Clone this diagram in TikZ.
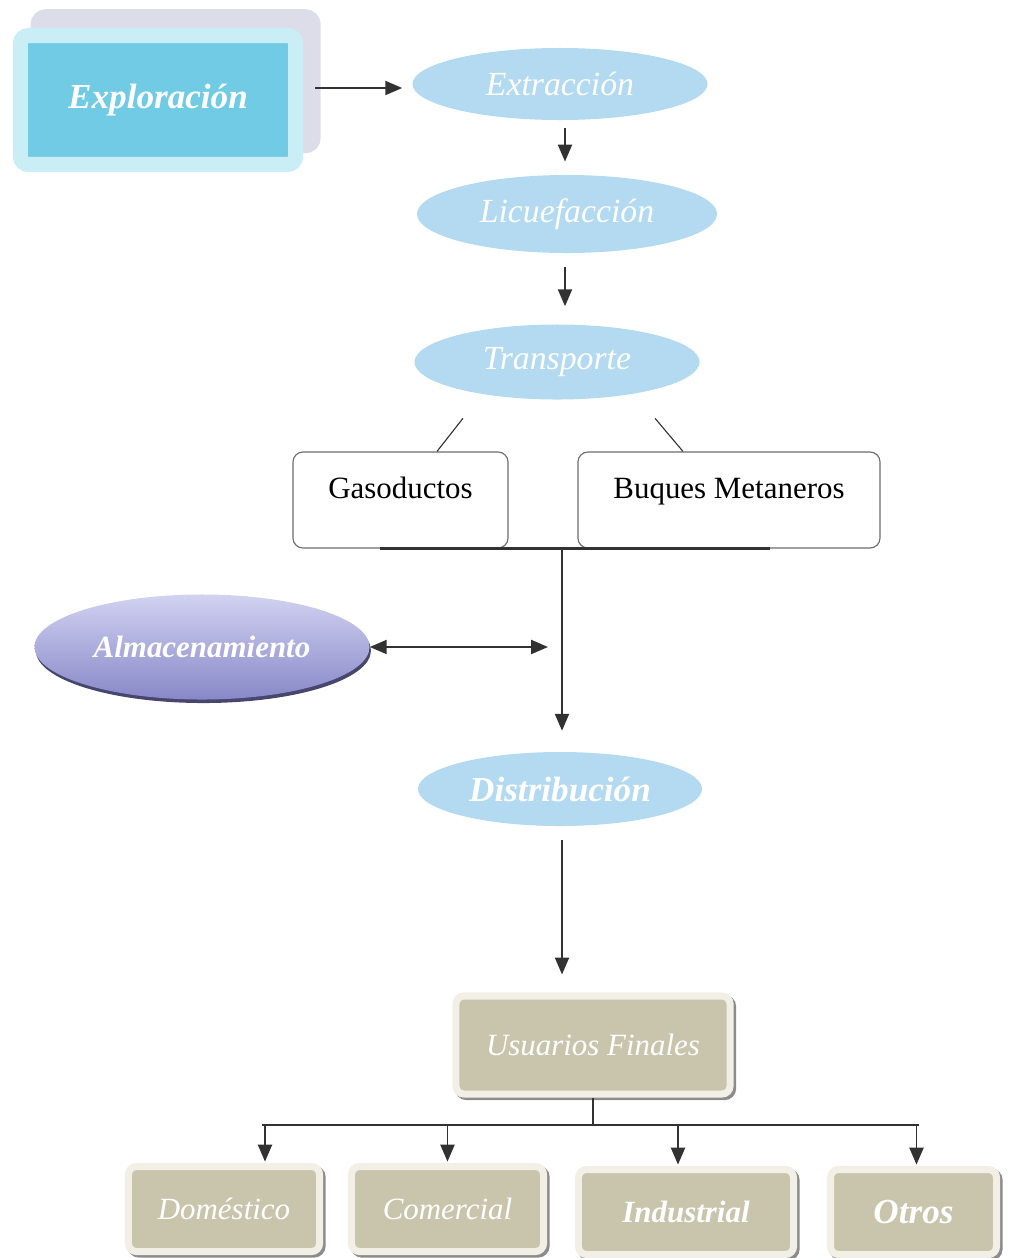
\documentclass[tikz,border=0pt]{standalone}
\usepackage{fontspec}
\setmainfont{Liberation Serif}
\usetikzlibrary{calc,shapes.geometric,shadows,arrows.meta}

\definecolor{ellblue}{RGB}{179,218,240}
\definecolor{explocyan}{RGB}{114,203,228}
\definecolor{explorim}{RGB}{202,238,246}
\definecolor{exploback}{RGB}{221,221,233}
\definecolor{almatop}{RGB}{210,210,242}
\definecolor{almabot}{RGB}{136,136,200}
\definecolor{almashadow}{RGB}{70,70,110}
\definecolor{boxtan}{RGB}{201,197,172}
\definecolor{boxrim}{RGB}{241,239,230}
\definecolor{boxshadow}{RGB}{140,140,140}
\definecolor{arrgray}{RGB}{50,50,50}

\tikzset{
  explo/.style={rectangle, rounded corners=0.2cm, fill=explocyan, draw=explorim,
    line width=10.7pt, inner sep=0pt, minimum width=6.875cm, minimum height=3.225cm,
    text=white, font=\fontsize{25}{30}\selectfont\bfseries\itshape,
    general shadow={shadow xshift=0.44cm, shadow yshift=0.47cm, fill=exploback,
      draw=exploback, line width=10.7pt}},
  etapa/.style={ellipse, fill=ellblue, inner sep=0pt, text=white,
    font=\fontsize{24}{28}\selectfont\itshape},
  almacen/.style={ellipse, top color=almatop, bottom color=almabot, inner sep=0pt,
    text=white, font=\fontsize{22}{26}\selectfont\bfseries\itshape,
    drop shadow={shadow xshift=1pt, shadow yshift=-2.5pt, fill=almashadow, opacity=1}},
  ramal/.style={rectangle, rounded corners=0.25cm, draw=gray!85!black, line width=0.8pt,
    fill=white, inner xsep=0pt, inner ysep=0pt, text height=1.15cm, text depth=1.25cm,
    minimum height=2.4cm, font=\fontsize{22}{26}\selectfont},
  usuario/.style={rectangle, rounded corners=0.2cm, fill=boxtan, draw=boxrim,
    line width=5pt, inner sep=0pt, minimum height=2.125cm, text=white,
    font=\fontsize{22}{26}\selectfont\itshape,
    drop shadow={shadow xshift=1.8pt, shadow yshift=-1.8pt, fill=boxshadow,
      draw=boxshadow, line width=5pt, opacity=1}},
  arr/.style={line width=1.3pt, draw=arrgray, -{Triangle[width=10pt,length=12pt]}},
  darr/.style={line width=1.3pt, draw=arrgray, {Triangle[width=10pt,length=12pt]}-{Triangle[width=10pt,length=12pt]}},
  rama/.style={line width=0.8pt, draw=arrgray}
}

\newcommand{\sector}[5]{%
\node[usuario, minimum width=#4] (#1) at (#2,#3) {#5};
}

\begin{document}
\begin{tikzpicture}[x=0.025cm,y=-0.025cm]
\useasboundingbox (0,0) rectangle (1008,1258);

% etapas
\node[explo] (explo) at (158,100) {Exploración};
\node[etapa, minimum width=7.375cm, minimum height=1.8cm] (extr) at (560,84) {Extracción};
\node[etapa, minimum width=7.5cm, minimum height=1.95cm] (licu) at (567,214) {Licuefacción};
\node[etapa, minimum width=7.125cm, minimum height=1.875cm] (trans) at (557,362) {Transporte};

\draw[arr, shorten <=0.3cm, shorten >=0.25cm] (explo.east |- 0,88) -- (extr.west |- 0,88);
\draw[arr, shorten <=0.2cm, shorten >=0.33cm] (extr.south -| 565,0) -- (licu.north -| 565,0);
\draw[arr, shorten <=0.35cm, shorten >=0.45cm] (licu.south -| 565,0) -- (trans.north -| 565,0);

% transporte
\node[ramal, minimum width=5.375cm] (gaso) at (400.5,500) {Gasoductos};
\node[ramal, minimum width=7.55cm] (buques) at (729,500) {Buques Metaneros};

\draw[rama] ($(trans.south)+(-94,18.5)$) -- ($(gaso.north)+(36.5,0)$);
\draw[rama] ($(trans.south)+(98,18.5)$) -- ($(buques.north)+(-46,0)$);

\draw[line width=1.8pt, arrgray] ($(gaso.south)+(-21,0)$) -- ($(buques.south)+(41,0)$);
\coordinate (join) at (562,548);

% almacenamiento y distribucion
\node[almacen, minimum width=8.375cm, minimum height=2.625cm] (alma) at (202,647) {Almacenamiento};
\node[etapa, minimum width=7.1cm, minimum height=1.85cm,
  font=\fontsize{25}{30}\selectfont\bfseries\itshape] (dist) at (560,789) {Distribución};

\draw[arr, shorten >=0.525cm] (join) -- (join |- dist.north);
\draw[darr, shorten >=0.35cm] (alma.east) -- (alma.east -| join);

% usuarios
\node[usuario, minimum width=6.85cm, minimum height=2.45cm] (usu) at (593,1045) {Usuarios Finales};

\draw[arr, shorten <=0.35cm, shorten >=0.45cm] (dist.south -| 562,0) -- (usu.north -| 562,0);

\sector{dom}{224}{1209}{4.775cm}{Doméstico}
\sector{com}{447.5}{1209}{4.8cm}{Comercial}
\sector{ind}{686}{1212}{5.375cm}{\bfseries Industrial}
\sector{otr}{913.5}{1212}{4.15cm}{\fontsize{25}{30}\selectfont\bfseries Otros}

\path (dom.north) ++(41,0) coordinate (domtop);
\path (com.north) ++(0,0) coordinate (comtop);
\path (ind.north) ++(-8,0) coordinate (indtop);
\path (otr.north) ++(3,0) coordinate (otrtop);
\coordinate (bus) at (593,1125);

\draw[line width=1.3pt, arrgray] (usu.south) -- (bus);
\draw[line width=1.8pt, arrgray, shorten <=-2pt, shorten >=-2pt] (bus -| domtop) -- (bus -| otrtop);
\foreach \n in {domtop,comtop,indtop,otrtop}
  \draw[arr, shorten >=1pt] (bus -| \n) -- (\n);

\end{tikzpicture}
\end{document}
